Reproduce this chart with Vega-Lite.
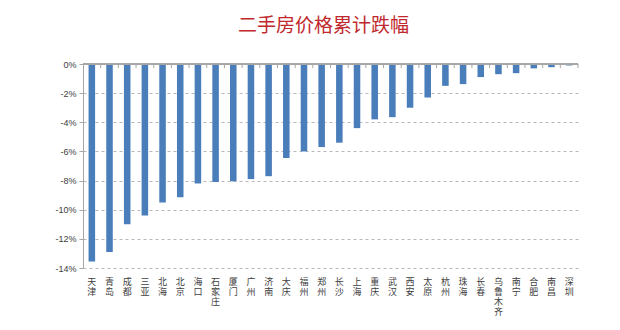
{
  "$schema": "https://vega.github.io/schema/vega-lite/v6.json",
  "autosize": "none",
  "width": 495,
  "height": 204,
  "padding": {"left": 83, "top": 64, "right": 42, "bottom": 62},
  "background": "white",
  "title": {
    "text": "二手房价格累计跌幅",
    "font": "Noto Sans CJK SC",
    "fontSize": 19,
    "fontWeight": "normal",
    "color": "#c0282d",
    "anchor": "middle",
    "dx": -7,
    "offset": 24
  },
  "data": {
    "values": [
      {"city": "天津", "v": -13.55},
      {"city": "青岛", "v": -12.9},
      {"city": "成都", "v": -11.0},
      {"city": "三亚", "v": -10.4},
      {"city": "北海", "v": -9.5},
      {"city": "北京", "v": -9.15},
      {"city": "海口", "v": -8.2},
      {"city": "石家庄", "v": -8.1},
      {"city": "厦门", "v": -8.05},
      {"city": "广州", "v": -7.9},
      {"city": "济南", "v": -7.7},
      {"city": "大庆", "v": -6.45},
      {"city": "福州", "v": -6.0},
      {"city": "郑州", "v": -5.7},
      {"city": "长沙", "v": -5.4},
      {"city": "上海", "v": -4.4},
      {"city": "重庆", "v": -3.8},
      {"city": "武汉", "v": -3.65},
      {"city": "西安", "v": -3.0},
      {"city": "太原", "v": -2.3},
      {"city": "杭州", "v": -1.5},
      {"city": "珠海", "v": -1.38},
      {"city": "长春", "v": -0.9},
      {"city": "乌鲁木齐", "v": -0.7},
      {"city": "南宁", "v": -0.63},
      {"city": "合肥", "v": -0.3},
      {"city": "南昌", "v": -0.22},
      {"city": "深圳", "v": -0.1}
    ]
  },
  "config": {"view": {"stroke": null}},
  "encoding": {
    "x": {
      "field": "city",
      "type": "nominal",
      "sort": null,
      "scale": {"paddingInner": 0, "paddingOuter": 0},
      "axis": {
        "orient": "bottom",
        "title": null,
        "domain": false,
        "ticks": false,
        "labelAngle": 0,
        "labelExpr": "split(datum.label, '')",
        "labelFont": "Noto Sans CJK SC",
        "labelFontSize": 9,
        "labelLineHeight": 10,
        "labelBaseline": "top",
        "labelColor": "#404040",
        "labelPadding": 9,
        "labelOverlap": false
      }
    }
  },
  "layer": [
    {
      "mark": {"type": "bar", "color": "#4a7ebb", "width": {"band": 0.37}},
      "encoding": {
        "y": {
          "field": "v",
          "type": "quantitative",
          "scale": {"domain": [-14, 0], "nice": false},
          "axis": {
            "title": null,
            "values": [0, -2, -4, -6, -8, -10, -12, -14],
            "tickCount": 20,
            "labelExpr": "datum.value + '%'",
            "labelFont": "Liberation Sans",
            "labelFontSize": 9,
            "labelColor": "#404040",
            "labelPadding": 3,
            "labelOverlap": false,
            "labelFlush": false,
            "domain": true,
            "domainColor": "#a6a6a6",
            "ticks": true,
            "tickColor": "#a6a6a6",
            "tickSize": 4,
            "grid": true,
            "gridColor": "#a6a6a6",
            "gridDash": [3, 3],
            "gridWidth": 0.8
          }
        }
      }
    },
    {
      "mark": {"type": "rule", "color": "#a6a6a6", "strokeWidth": 1},
      "encoding": {"x": null, "y": {"datum": 0}}
    },
    {
      "mark": {"type": "rule", "color": "#a6a6a6", "strokeWidth": 1},
      "encoding": {
        "x": {"field": "city", "type": "nominal", "sort": null, "bandPosition": 1},
        "y": {"datum": 0},
        "y2": {"datum": -0.28}
      }
    }
  ]
}
